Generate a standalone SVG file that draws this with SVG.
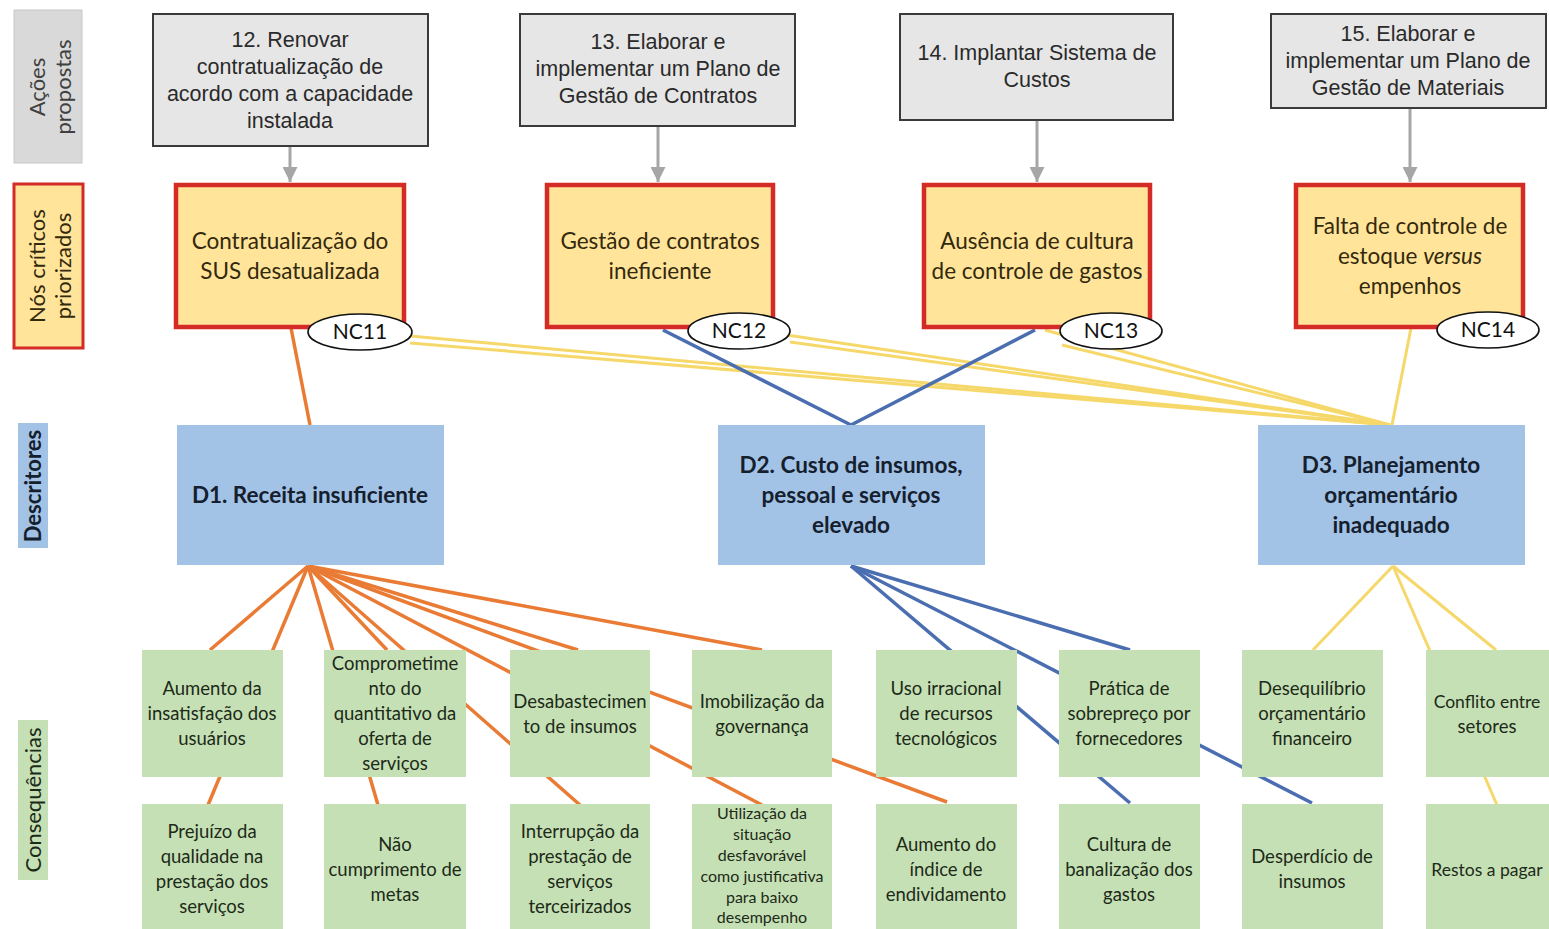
<svg xmlns="http://www.w3.org/2000/svg" width="1549" height="929" viewBox="0 0 1549 929">
<style>
.act rect{fill:#e6e6e6;stroke:#3a3a3a;stroke-width:2}
.act text{font-family:"Liberation Sans",Arial,sans-serif;font-size:21.5px;fill:#2a2a2a;text-anchor:middle}
.nc rect{fill:#ffe49a;stroke:#d52b27;stroke-width:4.5}
.nc text{font-family:Lato,"Noto Sans",sans-serif;font-size:22.5px;fill:#33290c;text-anchor:middle}
.tag ellipse{fill:#fff;stroke:#111;stroke-width:1.6}
.tag text{font-family:Lato,"Noto Sans",sans-serif;font-size:21px;fill:#111;text-anchor:middle}
.ds rect{fill:#a3c3e6}
.ds text{font-family:Lato,"Noto Sans",sans-serif;font-size:22.5px;font-weight:bold;fill:#15202e;text-anchor:middle}
.cq rect{fill:#c6e0b5}
.cq text{font-family:Lato,"Noto Sans",sans-serif;font-size:18.5px;fill:#1c2a18;text-anchor:middle}
.cq text.sm{font-size:16px}
.cq text.ed{font-size:17.5px}
.lab text{font-family:Lato,"Noto Sans",sans-serif;font-size:22px;text-anchor:middle}
.o{stroke:#e97b35;stroke-width:3.5;fill:none}
.b{stroke:#4a6eb0;stroke-width:3.5;fill:none}
.y{stroke:#f6d86a;stroke-width:3;fill:none}
.g{stroke:#a6a6a6;stroke-width:3;fill:none}
</style>
<defs>
<marker id="ga" viewBox="0 0 10 10" refX="10" refY="5" markerWidth="5" markerHeight="5" orient="auto" markerUnits="strokeWidth">
<path d="M0,0 L10,5 L0,10 z" fill="#a6a6a6"/>
</marker>
</defs>
<rect width="1549" height="929" fill="#fff"/>

<g id="labels" class="lab">
<rect x="14" y="10" width="68" height="153" fill="#d9d9d9" stroke="#c8c8c8" stroke-width="1"/>
<text transform="translate(45,87) rotate(-90)" fill="#404040">Ações</text>
<text transform="translate(71,87) rotate(-90)" fill="#404040">propostas</text>
<rect x="14" y="184" width="69" height="164" fill="#ffe49a" stroke="#d52b27" stroke-width="3"/>
<text transform="translate(45,266) rotate(-90)" fill="#33290c">Nós críticos</text>
<text transform="translate(71,266) rotate(-90)" fill="#33290c">priorizados</text>
<rect x="18" y="423" width="30" height="125" fill="#a3c3e6"/>
<text transform="translate(41,486) rotate(-90)" fill="#15202e" font-weight="bold">Descritores</text>
<rect x="18" y="720" width="30" height="160" fill="#c6e0b5"/>
<text transform="translate(41,800) rotate(-90)" fill="#1c2a18">Consequências</text>
</g>

<g id="connectors">
<line class="g" x1="290" y1="146" x2="290" y2="182" marker-end="url(#ga)"/>
<line class="g" x1="658" y1="126" x2="658" y2="182" marker-end="url(#ga)"/>
<line class="g" x1="1037" y1="120" x2="1037" y2="182" marker-end="url(#ga)"/>
<line class="g" x1="1410" y1="108" x2="1410" y2="182" marker-end="url(#ga)"/>

<line class="o" x1="291" y1="328" x2="310" y2="425"/>
<line class="y" x1="410" y1="336" x2="1390" y2="425"/>
<line class="y" x1="410" y1="343" x2="1390" y2="425"/>
<line class="y" x1="780" y1="334" x2="1390" y2="425"/>
<line class="y" x1="790" y1="342" x2="1390" y2="425"/>
<line class="y" x1="1045" y1="330" x2="1390" y2="425"/>
<line class="y" x1="1062" y1="345" x2="1390" y2="425"/>
<line class="y" x1="1411" y1="328" x2="1392" y2="425" stroke-width="2"/>
<line class="b" x1="663" y1="330" x2="851" y2="425"/>
<line class="b" x1="1035" y1="330" x2="851" y2="425"/>

<line class="o" x1="308" y1="566" x2="210" y2="650"/>
<line class="o" x1="308" y1="566" x2="208" y2="805"/>
<line class="o" x1="308" y1="566" x2="378" y2="805"/>
<line class="o" x1="308" y1="566" x2="387" y2="650" stroke-width="5"/>
<line class="o" x1="308" y1="566" x2="580" y2="805"/>
<line class="o" x1="308" y1="566" x2="947" y2="802"/>
<line class="o" x1="308" y1="566" x2="762" y2="805"/>
<line class="o" x1="308" y1="566" x2="578" y2="650"/>
<line class="o" x1="308" y1="566" x2="762" y2="650"/>

<line class="b" x1="851" y1="566" x2="1130" y2="803"/>
<line class="b" x1="851" y1="566" x2="1312" y2="803"/>
<line class="b" x1="851" y1="566" x2="1130" y2="650"/>

<line class="y" x1="1393" y1="566" x2="1313" y2="650"/>
<line class="y" x1="1393" y1="566" x2="1497" y2="805"/>
<line class="y" x1="1393" y1="566" x2="1496" y2="650"/>
</g>

<g id="a12" class="act"><rect x="153" y="14" width="275" height="132"/>
<text x="290" y="47">12. Renovar</text><text x="290" y="74">contratualização de</text><text x="290" y="101">acordo com a capacidade</text><text x="290" y="128">instalada</text></g>
<g id="a13" class="act"><rect x="520" y="14" width="275" height="112"/>
<text x="658" y="49">13. Elaborar e</text><text x="658" y="76">implementar um Plano de</text><text x="658" y="103">Gestão de Contratos</text></g>
<g id="a14" class="act"><rect x="900" y="14" width="273" height="106"/>
<text x="1037" y="60">14. Implantar Sistema de</text><text x="1037" y="87">Custos</text></g>
<g id="a15" class="act"><rect x="1271" y="14" width="275" height="94"/>
<text x="1408" y="41">15. Elaborar e</text><text x="1408" y="68">implementar um Plano de</text><text x="1408" y="95">Gestão de Materiais</text></g>

<g id="nc11" class="nc"><rect x="176" y="185" width="228" height="142"/>
<text x="290" y="249">Contratualização do</text><text x="290" y="279">SUS desatualizada</text></g>
<g id="nc12" class="nc"><rect x="547" y="185" width="226" height="142"/>
<text x="660" y="249">Gestão de contratos</text><text x="660" y="279">ineficiente</text></g>
<g id="nc13" class="nc"><rect x="924" y="185" width="226" height="142"/>
<text x="1037" y="249">Ausência de cultura</text><text x="1037" y="279">de controle de gastos</text></g>
<g id="nc14" class="nc"><rect x="1296" y="185" width="227" height="142"/>
<text x="1410" y="234">Falta de controle de</text><text x="1410" y="264">estoque <tspan font-style="italic">versus</tspan></text><text x="1410" y="294">empenhos</text></g>

<g id="tag11" class="tag"><ellipse cx="360" cy="332" rx="52" ry="18"/><text x="360" y="339">NC11</text></g>
<g id="tag12" class="tag"><ellipse cx="739" cy="331" rx="51" ry="18"/><text x="739" y="338">NC12</text></g>
<g id="tag13" class="tag"><ellipse cx="1111" cy="331" rx="51" ry="18"/><text x="1111" y="338">NC13</text></g>
<g id="tag14" class="tag"><ellipse cx="1488" cy="330" rx="51" ry="18"/><text x="1488" y="337">NC14</text></g>

<g id="d1" class="ds"><rect x="177" y="425" width="267" height="140"/>
<text x="310" y="503">D1. Receita insuficiente</text></g>
<g id="d2" class="ds"><rect x="718" y="425" width="267" height="140"/>
<text x="851" y="473">D2. Custo de insumos,</text><text x="851" y="503">pessoal e serviços</text><text x="851" y="533">elevado</text></g>
<g id="d3" class="ds"><rect x="1258" y="425" width="267" height="140"/>
<text x="1391" y="473">D3. Planejamento</text><text x="1391" y="503">orçamentário</text><text x="1391" y="533">inadequado</text></g>

<g id="c1" class="cq"><rect x="142" y="650" width="141" height="127"/>
<text x="212" y="695">Aumento da</text><text x="212" y="720">insatisfação dos</text><text x="212" y="745">usuários</text></g>
<g id="c2" class="cq"><rect x="324" y="650" width="142" height="127"/>
<text x="395" y="670">Comprometime</text><text x="395" y="695">nto do</text><text x="395" y="720">quantitativo da</text><text x="395" y="745">oferta de</text><text x="395" y="770">serviços</text></g>
<g id="c3" class="cq"><rect x="510" y="650" width="140" height="127"/>
<text x="580" y="708">Desabastecimen</text><text x="580" y="733">to de insumos</text></g>
<g id="c4" class="cq"><rect x="692" y="650" width="140" height="127"/>
<text x="762" y="708">Imobilização da</text><text x="762" y="733">governança</text></g>
<g id="c5" class="cq"><rect x="876" y="650" width="141" height="127"/>
<text x="946" y="695">Uso irracional</text><text x="946" y="720">de recursos</text><text x="946" y="745">tecnológicos</text></g>
<g id="c6" class="cq"><rect x="1059" y="650" width="141" height="127"/>
<text x="1129" y="695">Prática de</text><text x="1129" y="720">sobrepreço por</text><text x="1129" y="745">fornecedores</text></g>
<g id="c7" class="cq"><rect x="1242" y="650" width="141" height="127"/>
<text x="1312" y="695">Desequilíbrio</text><text x="1312" y="720">orçamentário</text><text x="1312" y="745">financeiro</text></g>
<g id="c8" class="cq"><rect x="1426" y="650" width="141" height="127"/>
<text class="ed" x="1487" y="708">Conflito entre</text><text x="1487" y="733">setores</text></g>

<g id="c9" class="cq"><rect x="142" y="804" width="141" height="125"/>
<text x="212" y="838">Prejuízo da</text><text x="212" y="863">qualidade na</text><text x="212" y="888">prestação dos</text><text x="212" y="913">serviços</text></g>
<g id="c10" class="cq"><rect x="324" y="804" width="142" height="125"/>
<text x="395" y="851">Não</text><text x="395" y="876">cumprimento de</text><text x="395" y="901">metas</text></g>
<g id="c11" class="cq"><rect x="510" y="804" width="140" height="125"/>
<text x="580" y="838">Interrupção da</text><text x="580" y="863">prestação de</text><text x="580" y="888">serviços</text><text x="580" y="913">terceirizados</text></g>
<g id="c12" class="cq"><rect x="692" y="804" width="140" height="125"/>
<text class="sm" x="762" y="819">Utilização da</text><text class="sm" x="762" y="840">situação</text><text class="sm" x="762" y="861">desfavorável</text><text class="sm" x="762" y="882">como justificativa</text><text class="sm" x="762" y="903">para baixo</text><text class="sm" x="762" y="923">desempenho</text></g>
<g id="c13" class="cq"><rect x="876" y="804" width="141" height="125"/>
<text x="946" y="851">Aumento do</text><text x="946" y="876">índice de</text><text x="946" y="901">endividamento</text></g>
<g id="c14" class="cq"><rect x="1059" y="804" width="141" height="125"/>
<text x="1129" y="851">Cultura de</text><text x="1129" y="876">banalização dos</text><text x="1129" y="901">gastos</text></g>
<g id="c15" class="cq"><rect x="1242" y="804" width="141" height="125"/>
<text x="1312" y="863">Desperdício de</text><text x="1312" y="888">insumos</text></g>
<g id="c16" class="cq"><rect x="1426" y="804" width="141" height="125"/>
<text class="ed" x="1487" y="876">Restos a pagar</text></g>
</svg>
